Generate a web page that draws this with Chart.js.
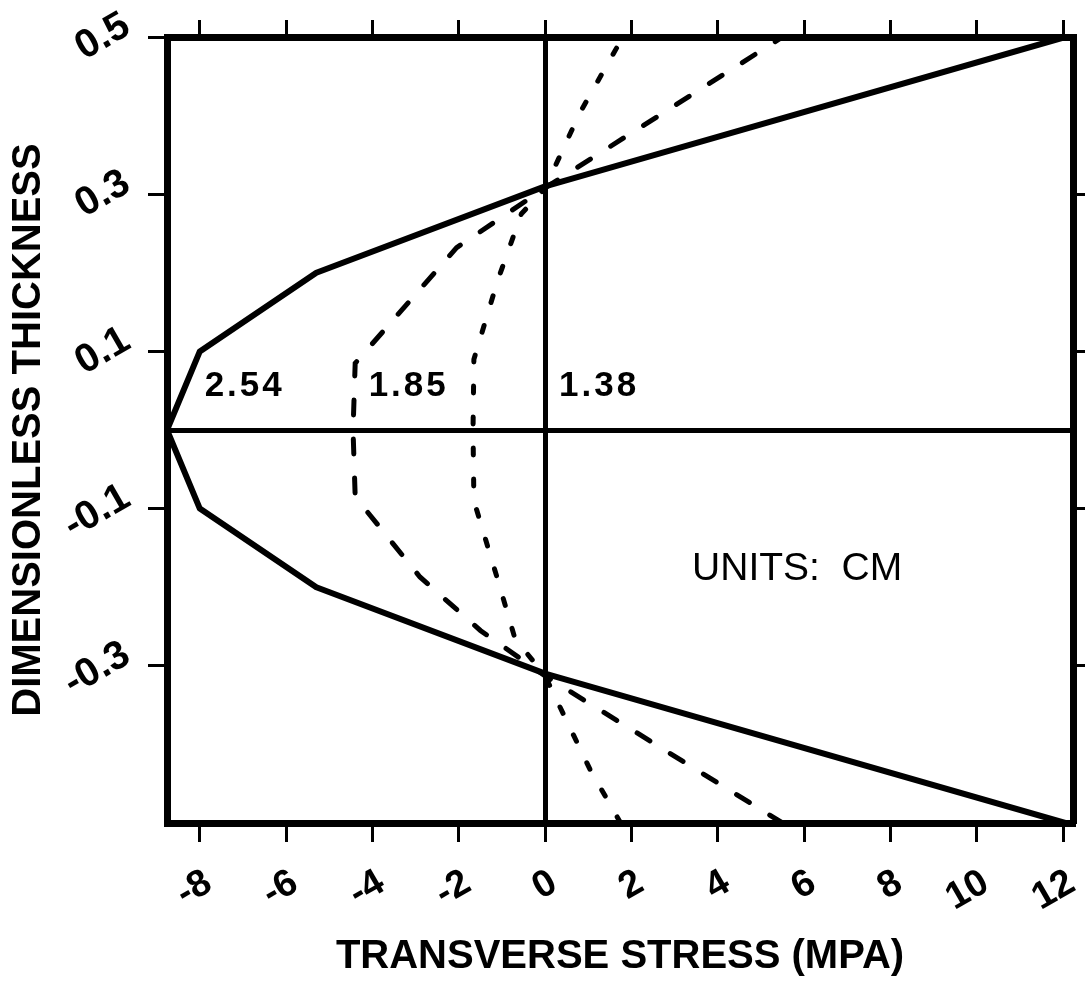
<!DOCTYPE html>
<html>
<head>
<meta charset="utf-8">
<title>Transverse stress vs dimensionless thickness</title>
<script src="https://cdn.jsdelivr.net/npm/chart.js@4.4.1/dist/chart.umd.min.js"></script>
<style>
  html, body { margin: 0; padding: 0; background: #fff; }
  canvas { display: block; }
</style>
</head>
<body>
<canvas id="stressChart" width="1085" height="987"></canvas>
<script>
// thickness 2.54 cm (solid)
var thick254 = [-0.5, -0.31, -0.2, -0.1, 0, 0.1, 0.2, 0.31, 0.5];
var stress254 = [12.05, 0, -5.3, -8, -8.76, -8, -5.3, 0, 12.05];

// thickness 1.85 cm (dashed)
var thick185 = [-0.5, -0.313, -0.255, -0.187, -0.085, 0, 0.085, 0.232, 0.308, 0.5];
var stress185 = [5.5, 0, -1.5, -2.9, -4.4, -4.45, -4.4, -2.05, 0, 5.5];

// thickness 1.38 cm (dotted)
var thick138 = [-0.5, -0.433, -0.313, -0.265, -0.19, -0.09, 0, 0.09, 0.19, 0.275, 0.308, 0.403, 0.5];
var stress138 = [1.75, 1.05, 0, -0.7, -1.1, -1.65, -1.67, -1.65, -1.1, -0.55, 0, 0.8, 1.8];

// axis ticks
var stressTicks = [-8, -6, -4, -2, 0, 2, 4, 6, 8, 10, 12];
var thickTicks = [-0.3, -0.1, 0, 0.1, 0.3, 0.5];
var thickTicksRight = [-0.3, -0.1, 0.1, 0.3];

var curveLabels = ["2.54", "1.85", "1.38"];
var unitsLabel = "UNITS:  CM";

var fontFamily = '"Liberation Sans", Arial, Helvetica, sans-serif';

function toPoints(xs, ys) {
  return xs.map(function (v, i) {
    return { x: v, y: ys[i] };
  });
}

function setTicks(values) {
  return function (scale) {
    scale.ticks = values.map(function (v) {
      return { value: v };
    });
  };
}

// rotated tick labels + text inside the plot
var textPlugin = {
  id: "textPlugin",
  afterDraw: function (chart) {
    var ctx = chart.ctx;
    var xs = chart.scales.x;
    var ys = chart.scales.y;
    var area = chart.chartArea;
    ctx.save();
    ctx.fillStyle = "#000";

    // x tick labels
    ctx.font = "bold 38px " + fontFamily;
    ctx.textAlign = "right";
    ctx.textBaseline = "middle";
    xs.ticks.forEach(function (t) {
      ctx.save();
      ctx.translate(xs.getPixelForValue(t.value) + 9, area.bottom + 57);
      ctx.rotate(-Math.PI / 6);
      ctx.fillText(String(t.value), 0, 0);
      ctx.restore();
    });

    // y tick labels
    ctx.font = "bold 40px " + fontFamily;
    ys.ticks.forEach(function (t) {
      if (t.value === 0) return;
      ctx.save();
      ctx.translate(area.left - 40, ys.getPixelForValue(t.value) - 14);
      ctx.rotate(-Math.PI / 6);
      ctx.fillText(t.value.toFixed(1), 0, 0);
      ctx.restore();
    });

    // curve labels
    ctx.font = "bold 35px " + fontFamily;
    ctx.textAlign = "center";
    ctx.letterSpacing = "3px";
    ctx.fillText(curveLabels[0], xs.getPixelForValue(-6.96), ys.getPixelForValue(0.056));
    ctx.fillText(curveLabels[1], xs.getPixelForValue(-3.16), ys.getPixelForValue(0.055));
    ctx.fillText(curveLabels[2], xs.getPixelForValue(1.25), ys.getPixelForValue(0.056));

    ctx.letterSpacing = "0px";
    ctx.font = "39px " + fontFamily;
    ctx.fillText(unitsLabel, xs.getPixelForValue(5.84), ys.getPixelForValue(-0.177));
    ctx.restore();
  },
};

var zeroLine = function (c) {
  return c.tick && c.tick.value === 0 ? "#000" : "rgba(0,0,0,0)";
};
var tickMark = function (c) {
  return c.tick && c.tick.value === 0 ? "rgba(0,0,0,0)" : "#000";
};

var stressChartConfig = {
  type: "scatter",
  data: {
    datasets: [
      {
        label: curveLabels[0],
        data: toPoints(stress254, thick254),
        showLine: true,
        borderColor: "#000",
        borderWidth: 6,
        pointRadius: 0,
        borderJoinStyle: "round",
      },
      {
        label: curveLabels[1],
        data: toPoints(stress185, thick185),
        showLine: true,
        borderColor: "#000",
        borderWidth: 5,
        borderDash: [15, 24],
        borderCapStyle: "round",
        pointRadius: 0,
      },
      {
        label: curveLabels[2],
        data: toPoints(stress138, thick138),
        showLine: true,
        borderColor: "#000",
        borderWidth: 5,
        borderDash: [7, 24],
        borderCapStyle: "round",
        pointRadius: 0,
      },
    ],
  },
  options: {
    responsive: false,
    animation: false,
    plugins: {
      legend: { display: false },
      tooltip: { enabled: false },
    },
    scales: {
      x: {
        type: "linear",
        position: "bottom",
        min: -8.76,
        max: 12.23,
        afterBuildTicks: setTicks(stressTicks),
        afterFit: function (s) { s.height = 164; },
        ticks: { display: false },
        grid: { color: zeroLine, lineWidth: 5, tickColor: "#000", tickWidth: 3, tickLength: 19 },
        border: { display: true, color: "#000", width: 7 },
        title: {
          display: true,
          text: "TRANSVERSE STRESS (MPA)",
          color: "#000",
          font: { family: fontFamily, size: 40, weight: "bold" },
          padding: { top: 0, bottom: 6 },
        },
      },
      x2: {
        type: "linear",
        position: "top",
        min: -8.76,
        max: 12.23,
        afterBuildTicks: setTicks(stressTicks),
        afterFit: function (s) { s.height = 37; },
        ticks: { display: false },
        grid: { drawOnChartArea: false, tickColor: "#000", tickWidth: 3, tickLength: 17 },
        border: { display: true, color: "#000", width: 7 },
      },
      y: {
        type: "linear",
        position: "left",
        min: -0.5,
        max: 0.5,
        afterBuildTicks: setTicks(thickTicks),
        afterFit: function (s) { s.width = 167; },
        ticks: { display: false },
        grid: { color: zeroLine, lineWidth: 5, tickColor: tickMark, tickWidth: 3, tickLength: 19 },
        border: { display: true, color: "#000", width: 7 },
        title: {
          display: true,
          text: "DIMENSIONLESS THICKNESS",
          color: "#000",
          font: { family: fontFamily, size: 40, weight: "bold" },
          padding: { top: 5, bottom: 0 },
        },
      },
      y2: {
        type: "linear",
        position: "right",
        min: -0.5,
        max: 0.5,
        afterBuildTicks: setTicks(thickTicksRight),
        afterFit: function (s) { s.width = 12; },
        ticks: { display: false },
        grid: { drawOnChartArea: false, tickColor: "#000", tickWidth: 3, tickLength: 12 },
        border: { display: true, color: "#000", width: 7 },
      },
    },
  },
  plugins: [textPlugin],
};

var stressChart = new Chart(document.getElementById("stressChart"), stressChartConfig);
</script>
</body>
</html>
